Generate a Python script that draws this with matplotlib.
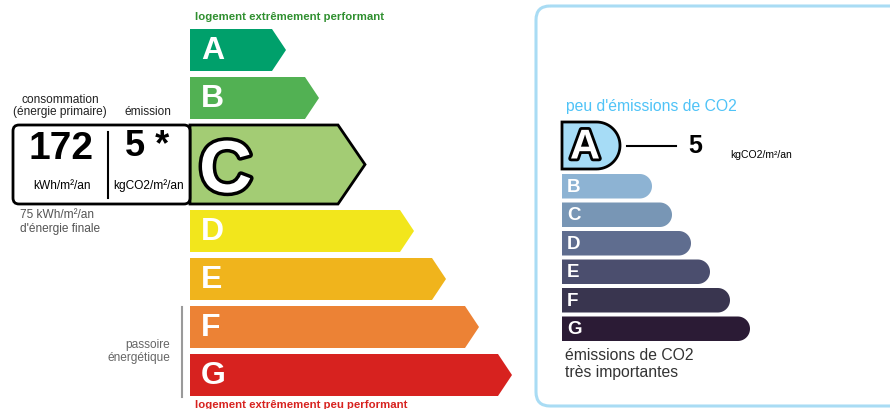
import numpy as np
import matplotlib
matplotlib.use('Agg')
import matplotlib.pyplot as plt
from matplotlib.patches import Polygon, FancyBboxPatch
import matplotlib.patheffects as pe

plt.rcParams['font.family'] = ['Liberation Sans', 'DejaVu Sans']

# DPE values
conso = 172
emission = 5
final_energy = 75
energy_class = 'C'
climate_class = 'A'

classes = ['A', 'B', 'C', 'D', 'E', 'F', 'G']
energy_lengths = [96, 129, 175, 224, 256, 289, 322]
energy_colors = ['#00a06b', '#52b153', '#a3cc74', '#f2e61c', '#f0b41c', '#ec8235', '#d7221f']
climate_lengths = [58, 90, 110, 129, 148, 168, 188]
climate_colors = ['#a6dcf6', '#8db3d3', '#7896b5', '#5f6d8f', '#4b4e6e', '#39354f', '#2b1b35']


def arrow_pts(x0, y0, w, h, tip):
    return [(x0, y0), (x0 + w - tip, y0), (x0 + w, y0 + h / 2),
            (x0 + w - tip, y0 + h), (x0, y0 + h)]


def round_end_pts(x0, y0, w, h):
    r = h / 2.0
    cx, cy = x0 + w - r, y0 + r
    t = np.linspace(-np.pi / 2, np.pi / 2, 40)
    arc = list(zip(cx + r * np.cos(t), cy + r * np.sin(t)))
    return [(x0, y0)] + arc + [(x0, y0 + h)]


fig = plt.figure(figsize=(8.9, 4.09), dpi=100)
ax = fig.add_axes([0, 0, 1, 1])
ax.set_xlim(0, 890)
ax.set_ylim(409, 0)
ax.axis('off')

#--------------------------------------
# energy label (left)
#--------------------------------------
ex0 = 190
y = 29
for cl, L, col in zip(classes, energy_lengths, energy_colors):
    if cl == energy_class:
        h = 79
        ax.add_patch(Polygon(arrow_pts(ex0, y, L, h, 27), closed=True, fc=col,
                             ec='black', lw=2, joinstyle='miter', zorder=3))
        # value box
        ax.add_patch(FancyBboxPatch((13, y), ex0 - 13, h,
                                    boxstyle='round,pad=0,rounding_size=6',
                                    fc='white', ec='black', lw=2, zorder=3))
        ax.plot([108, 108], [y + 7, y + h - 6], color='black', lw=1.5, zorder=4)
        ax.text(61, y + 24, str(conso), fontsize=28, fontweight='bold',
                ha='center', va='center', zorder=5)
        ax.text(147, y + 22, '%d *' % emission, fontsize=26, fontweight='bold',
                ha='center', va='center', zorder=5)
        ax.text(62, y + 61, 'kWh/m²/an', fontsize=8.6, ha='center', va='center', zorder=5)
        ax.text(149, y + 61, 'kgCO2/m²/an', fontsize=8.6, ha='center', va='center', zorder=5)
        ax.text(199, y + h / 2 + 8, cl, fontsize=53, fontweight='bold', color='white',
                ha='left', va='center', zorder=5,
                path_effects=[pe.withStroke(linewidth=5, foreground='black')])
    else:
        h = 42
        ax.add_patch(Polygon(arrow_pts(ex0, y, L, h, 14), closed=True, fc=col,
                             ec='none', zorder=2))
        ax.text(201, y + h / 2 + 1, cl, fontsize=23, fontweight='bold', color='white',
                ha='left', va='center', zorder=4)
    y += h + 6

ax.text(195, 17, 'logement extrêmement performant', fontsize=8.2, fontweight='bold',
        color='#2f8f2f', ha='left', va='center')
ax.text(195, 405, 'logement extrêmement peu performant', fontsize=8.2, fontweight='bold',
        color='#d7221f', ha='left', va='center')

ax.text(60, 100, 'consommation', fontsize=8.6, ha='center', va='center', color='#222222')
ax.text(60, 112, '(énergie primaire)', fontsize=8.6, ha='center', va='center', color='#222222')
ax.text(148, 112, 'émission', fontsize=8.6, ha='center', va='center', color='#222222')

ax.text(20, 215, '%d kWh/m²/an' % final_energy, fontsize=8.6, ha='left', va='center', color='#555555')
ax.text(20, 229, "d'énergie finale", fontsize=8.6, ha='left', va='center', color='#555555')

ax.plot([182, 182], [307, 397], color='#9a9a9a', lw=1.5)
ax.text(170, 345, 'passoire', fontsize=8.6, ha='right', va='center', color='#666666')
ax.text(170, 358, 'énergétique', fontsize=8.6, ha='right', va='center', color='#666666')

#--------------------------------------
# climate label (right)
#--------------------------------------
ax.add_patch(FancyBboxPatch((536, 6), 400, 400, boxstyle='round,pad=0,rounding_size=14',
                            fc='none', ec='#a9dcf4', lw=2.2))
ax.text(566, 106, "peu d'émissions de CO2", fontsize=11.3, color='#4fc3f7',
        ha='left', va='center')

cx0 = 562
y = 122
for cl, L, col in zip(classes, climate_lengths, climate_colors):
    if cl == climate_class:
        h = 47
        ax.add_patch(Polygon(round_end_pts(cx0, y, L, h), closed=True, fc=col,
                             ec='black', lw=2, zorder=3))
        ax.text(585, y + h / 2 + 2, cl, fontsize=30, fontweight='bold', color='white',
                ha='center', va='center', zorder=5,
                path_effects=[pe.withStroke(linewidth=4, foreground='black')])
        ax.plot([627, 676], [y + 24, y + 24], color='black', lw=1.5)
        ax.text(688, y + 24, str(emission), fontsize=18, fontweight='bold',
                ha='left', va='center')
        ax.text(730, y + 33, 'kgCO2/m²/an', fontsize=7.5, ha='left', va='center')
        y += h + 5
    else:
        h = 24.5
        ax.add_patch(Polygon(round_end_pts(cx0, y, L, h), closed=True, fc=col,
                             ec='none', zorder=2))
        ax.text(567, y + h / 2 + 1, cl, fontsize=13.5, fontweight='bold', color='white',
                ha='left', va='center', zorder=4)
        y += 28.5

ax.text(565, 355, 'émissions de CO2', fontsize=11.3, color='#333333', ha='left', va='center')
ax.text(565, 373, 'très importantes', fontsize=11.3, color='#333333', ha='left', va='center')

fig.savefig('out.png', dpi=100)
